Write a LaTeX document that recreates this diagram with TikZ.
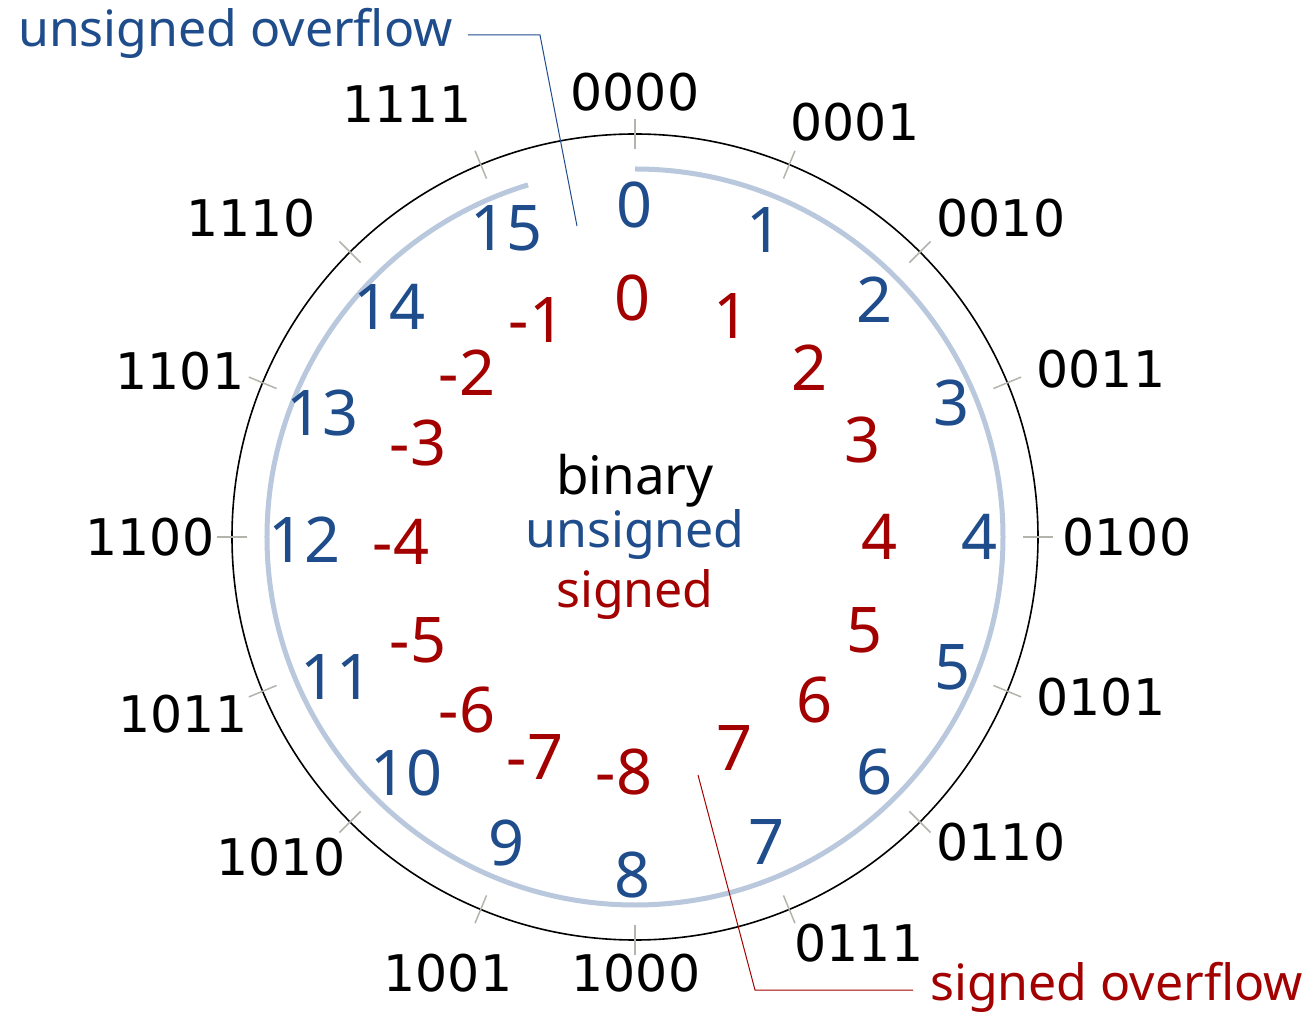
\documentclass[tikz,border=0pt]{standalone}
\usepackage{fontspec}
\setmainfont{Noto Sans}
\newfontfamily\binfont{DejaVu Sans}
\definecolor{ublue}{RGB}{31,77,140}
\definecolor{sred}{RGB}{163,0,0}
\definecolor{arcblue}{RGB}{185,200,220}
\definecolor{tickgray}{RGB}{180,180,172}
\begin{document}
\begin{tikzpicture}[x=1pt,y=1pt,
  binlbl/.style={font=\binfont\fontsize{50.5}{50}\selectfont, inner sep=0pt},
  unum/.style={font=\fontsize{63}{63}\selectfont, text=ublue, inner sep=0pt},
  snum/.style={font=\fontsize{63}{63}\selectfont, text=sred, inner sep=0pt},
  midtext/.style={font=\fontsize{50}{50}\selectfont, inner sep=0pt, anchor=base},
  calltext/.style={font=\fontsize{50}{50}\selectfont, inner sep=0pt, anchor=base west},
  tickline/.style={draw=tickgray, line width=1.5pt},
  ringline/.style={draw=black, line width=1.6pt},
  arcline/.style={draw=arcblue, line width=5pt},
  ucall/.style={draw=ublue, line width=1pt},
  scall/.style={draw=sred, line width=1pt}]
\useasboundingbox (-635,-479) rectangle (676,537);
\fill[white] (-635,-479) rectangle (676,537);
% ring
\node[circle, ringline, minimum size=806pt, inner sep=0pt] (ring) at (0,0) {};
\foreach \i in {0,...,15}{
  \draw[tickline] ({90-\i*22.5}:388) -- ({90-\i*22.5}:418);
}
\draw[arcline] (90:368) arc[start angle=90, end angle=-253.1, radius=368];
% binary labels
\node[binlbl] (b0) at (0,445) {0000};
\node[binlbl] (b1) at (220,415) {0001};
\node[binlbl] (b2) at (366,319) {0010};
\node[binlbl] (b3) at (466,168) {0011};
\node[binlbl] (b4) at (492,0) {0100};
\node[binlbl] (b5) at (466,-160) {0101};
\node[binlbl] (b6) at (366,-305) {0110};
\node[binlbl] (b7) at (224,-406) {0111};
\node[binlbl] (b8) at (1,-436) {1000};
\node[binlbl] (b9) at (-187,-436) {1001};
\node[binlbl] (b10) at (-354,-320) {1010};
\node[binlbl] (b11) at (-452,-177) {1011};
\node[binlbl] (b12) at (-485,0) {1100};
\node[binlbl] (b13) at (-455,166) {1101};
\node[binlbl] (b14) at (-384,319) {1110};
\node[binlbl] (b15) at (-228,433) {1111};
% unsigned
\node[unum] (u0) at (0,332) {0};
\node[unum] (u1) at (130,307) {1};
\node[unum] (u2) at (240,237) {2};
\node[unum] (u3) at (317,134) {3};
\node[unum] (u4) at (345,0) {4};
\node[unum] (u5) at (318,-130) {5};
\node[unum] (u6) at (240,-235) {6};
\node[unum] (u7) at (132,-305) {7};
\node[unum] (u8) at (-2,-338) {8};
\node[unum] (u9) at (-128,-306) {9};
\node[unum] (u10) at (-228,-236) {10};
\node[unum] (u11) at (-298,-140) {11};
\node[unum] (u12) at (-330,-3) {12};
\node[unum] (u13) at (-312,124) {13};
\node[unum] (u14) at (-245,230) {14};
\node[unum] (u15) at (-128,309) {15};
% signed
\node[snum] (s0) at (-2,239) {0};
\node[snum] (s1) at (97,221) {1};
\node[snum] (s2) at (175,169) {2};
\node[snum] (s3) at (228,97) {3};
\node[snum] (s4) at (245,0) {4};
\node[snum] (s5) at (230,-93) {5};
\node[snum] (s6) at (180,-163) {6};
\node[snum] (s7) at (100,-211) {7};
\node[snum] (s8) at (-11,-235) {-8};
\node[snum] (s9) at (-100,-220) {-7};
\node[snum] (s10) at (-168,-173) {-6};
\node[snum] (s11) at (-217,-103) {-5};
\node[snum] (s12) at (-234,-5) {-4};
\node[snum] (s13) at (-217,94) {-3};
\node[snum] (s14) at (-168,164) {-2};
\node[snum] (s15) at (-98,217) {-1};
% centre legend
\node[midtext, font=\fontsize{53}{53}\selectfont] (lbin) at (0,42) {binary};
\node[midtext, text=ublue] (luns) at (0,-11) {unsigned};
\node[midtext, text=sred] (lsig) at (0,-71) {signed};
% callouts
\node[calltext, text=ublue] (uo) at (-617,490) {unsigned overflow};
\node[calltext, text=sred] (so) at (295,-463) {signed overflow};
\coordinate (uoa) at (-95,502);
\coordinate (uob) at (-58,311);
\coordinate (soa) at (120,-453);
\coordinate (sob) at (63,-238);
\draw[ucall] (uo.east |- uoa) ++(15,0) -- (uoa) -- (uob);
\draw[scall] (so.west |- soa) ++(-17,0) -- (soa) -- (sob);
\end{tikzpicture}
\end{document}
